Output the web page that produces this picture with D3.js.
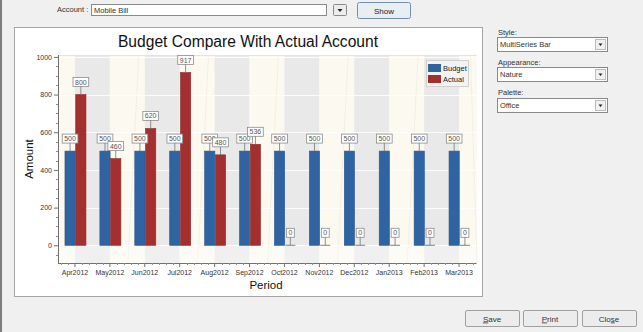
<!DOCTYPE html>
<html><head><meta charset="utf-8">
<script src="https://cdn.jsdelivr.net/npm/d3@7/dist/d3.min.js"></script>
<style>
html,body{margin:0;padding:0;background:#f0f0f0;overflow:hidden;}
svg{display:block;}
text{font-family:"Liberation Sans",Arial,sans-serif;}
</style></head>
<body>
<svg id="c" width="643" height="332"></svg>
<script>
const categories = ["Apr2012","May2012","Jun2012","Jul2012","Aug2012","Sep2012","Oct2012","Nov2012","Dec2012","Jan2013","Feb2013","Mar2013"];
const seriesNames = ["Budget","Actual"];
const budgetValues = [500,500,500,500,500,500,500,500,500,500,500,500];
const actualValues = [800,460,620,917,480,536,0,0,0,0,0,0];
const yTickValues = [0,200,400,600,800,1000];
const seriesColors = ["#2f63a2","#a3302e"];
const titleText = "Budget Compare With Actual Account";

const svg = d3.select("#c");

// window chrome
svg.append("rect").attr("x",0).attr("y",0).attr("width",643).attr("height",332).attr("fill","#f0f0f0");
svg.append("rect").attr("x",0).attr("y",0).attr("width",2).attr("height",332).attr("fill","#7d7d7d");

// top controls
svg.append("text").attr("x",57).attr("y",12).attr("font-size",7.5).attr("fill","#333").text("Account :");
svg.append("rect").attr("x",91.5).attr("y",4.5).attr("width",235).attr("height",11).attr("fill","#fff").attr("stroke","#8a8a8a");
svg.append("text").attr("x",94).attr("y",13).attr("font-size",7.5).attr("fill","#333").text("Mobile Bill");
svg.append("rect").attr("x",333.5).attr("y",4.5).attr("width",13).attr("height",11).attr("fill","#ececec").attr("stroke","#8a8a8a").attr("rx",1);
svg.append("path").attr("d","M337.5 9 L342.5 9 L340 12 Z").attr("fill","#222");
const showG = svg.append("g");
showG.append("rect").attr("x",357.5).attr("y",2.5).attr("width",53).attr("height",16).attr("rx",2).attr("fill","#e9eef3").attr("stroke","#6f8fb3");
showG.append("text").attr("x",384).attr("y",13.5).attr("text-anchor","middle").attr("font-size",8).attr("fill","#222").text("Show");

// right selects
const selects = [["Style:","MultiSeries Bar",35,37],["Appearance:","Nature",65,67],["Palette:","Office",95,98]];
selects.forEach(s=>{
  svg.append("text").attr("x",498).attr("y",s[2]).attr("font-size",7.5).attr("fill","#333").text(s[0]);
  svg.append("rect").attr("x",497.5).attr("y",s[3]+0.5).attr("width",110).attr("height",14).attr("fill","#fff").attr("stroke","#8a8a8a");
  svg.append("rect").attr("x",595.5).attr("y",s[3]+2.5).attr("width",10).attr("height",10).attr("fill","#f0f0f0").attr("stroke","#bdbdbd");
  svg.append("path").attr("d",`M598.5 ${s[3]+6.5} L602.5 ${s[3]+6.5} L600.5 ${s[3]+9} Z`).attr("fill","#222");
  svg.append("text").attr("x",500).attr("y",s[3]+10).attr("font-size",7.5).attr("fill","#333").text(s[1]);
});

// bottom buttons
const buttons = [["S","ave",465],["P","rint",523],["Clo","se",582]];
buttons.forEach((b,i)=>{
  svg.append("rect").attr("x",b[2]+0.5).attr("y",310.5).attr("width",54).attr("height",16).attr("rx",1.5).attr("fill","#ececec").attr("stroke","#a0a0a0");
  const t = svg.append("text").attr("x",b[2]+27).attr("y",321.5).attr("text-anchor","middle").attr("font-size",8).attr("fill","#333");
  if(i<2){ t.append("tspan").attr("text-decoration","underline").text(b[0]); t.append("tspan").text(b[1]); }
  else { t.append("tspan").text("Clo"); t.append("tspan").attr("text-decoration","underline").text("s"); t.append("tspan").text("e"); }
});

// chart panel
svg.append("rect").attr("x",14.5).attr("y",27.5).attr("width",468).attr("height",269).attr("fill","#fff").attr("stroke","#a5a5a5");

const plotL = 58, plotR = 476.5, plotT = 55, plotB = 263;
const x = d3.scaleBand().domain(categories).range([57.5, 476.5]).padding(0);
const center = c => x(c) + x.bandwidth()/2;
const xs = d3.scaleBand().domain(seriesNames).range([0,21]).paddingInner(0.05);
const y = d3.scaleLinear().domain([-94,1010]).range([plotB, plotT]);

// stripes
const plot = svg.append("g");
plot.append("rect").attr("x",plotL).attr("y",plotT).attr("width",plotR-plotL).attr("height",plotB-plotT).attr("fill","#fcf9f0");
categories.forEach((c,i)=>{
  const x0 = center(c);
  const x1 = i<categories.length-1 ? center(categories[i+1]) : plotR;
  plot.append("rect").attr("x",x0).attr("y",plotT).attr("width",x1-x0).attr("height",plotB-plotT)
    .attr("fill", i%2===0 ? "#e9e9e9" : "#fcf9f0");
  if(i%2===1){
    plot.append("line").attr("x1",x0+18).attr("x2",x1-6).attr("y1",plotB).attr("y2",plotT)
      .attr("stroke","#f1ecdf").attr("stroke-width",0.8);
  }
});
// area below zero lighter
plot.append("rect").attr("x",plotL).attr("y",y(0)).attr("width",plotR-plotL).attr("height",plotB-y(0)).attr("fill","#fff").attr("opacity",0.35);
// gridlines
yTickValues.forEach(v=>{
  plot.append("line").attr("x1",plotL).attr("x2",plotR).attr("y1",Math.round(y(v))+0.5).attr("y2",Math.round(y(v))+0.5)
    .attr("stroke","#ffffff").attr("stroke-width",1).attr("opacity",0.9);
});
plot.append("line").attr("x1",plotL).attr("x2",plotR).attr("y1",plotT+0.5).attr("y2",plotT+0.5).attr("stroke","#e2e2e2");

// bars
const series = [budgetValues, actualValues];
const barG = svg.append("g");
series.forEach((vals,si)=>{
  barG.selectAll(null).data(categories).enter().append("rect")
    .attr("x", c => center(c) - 10 + xs(seriesNames[si]))
    .attr("y", (c,i) => y(vals[i]))
    .attr("width", xs.bandwidth())
    .attr("height", (c,i) => Math.max(0, y(0) - y(vals[i])))
    .attr("fill", seriesColors[si])
    .attr("stroke", d3.color(seriesColors[si]).darker(0.4))
    .attr("stroke-width",0.6);
});

// axes
const yAxis = d3.axisLeft(y).tickValues(yTickValues).tickFormat(d3.format("d")).tickSize(4).tickPadding(2);
const yg = svg.append("g").attr("transform",`translate(${plotL},0)`).call(yAxis);
yg.select(".domain").attr("d",`M0.5,${plotT}V${plotB}`).attr("stroke","#707070");
yg.selectAll(".tick line").attr("stroke","#707070");
yg.selectAll(".tick text").attr("font-size",7).attr("fill","#333").attr("font-family","Liberation Sans, Arial");
const yMinor = d3.range(-50, 1010, 50).filter(v=>v%200!==0);
yg.selectAll(".minor").data(yMinor).enter().append("line").attr("x1",0).attr("x2",-2)
  .attr("y1",d=>Math.round(y(d))+0.5).attr("y2",d=>Math.round(y(d))+0.5).attr("stroke","#909090");

const xAxis = d3.axisBottom(x).tickSize(4).tickPadding(3);
const xg = svg.append("g").attr("transform",`translate(0,${plotB})`).call(xAxis);
xg.select(".domain").attr("d",`M${plotL},0.5H${plotR}`).attr("stroke","#707070");
xg.selectAll(".tick line").attr("stroke","#707070");
xg.selectAll(".tick text").attr("font-size",7).attr("fill","#333").attr("font-family","Liberation Sans, Arial");
const xMinor = [];
categories.forEach(c=>{ for(let k=-2;k<=2;k++){ if(k!==0) xMinor.push(center(c)+k*x.bandwidth()/5); } });
xg.selectAll(".minor").data(xMinor.filter(v=>v>plotL && v<plotR)).enter().append("line")
  .attr("x1",d=>Math.round(d)+0.5).attr("x2",d=>Math.round(d)+0.5).attr("y1",0).attr("y2",2).attr("stroke","#909090");

// data labels
const lblG = svg.append("g");
series.forEach((vals,si)=>{
  categories.forEach((c,i)=>{
    const cx = center(c) - 10 + xs(seriesNames[si]) + xs.bandwidth()/2;
    const top = y(vals[i]);
    const g = lblG.append("g");
    const t = g.append("text").attr("x",cx).attr("y",top-10).attr("text-anchor","middle")
      .attr("font-size",7).attr("fill","#555").text(vals[i]);
    const w = t.node().getComputedTextLength() + 4;
    g.insert("rect","text").attr("x",cx-w/2).attr("y",top-17).attr("width",w).attr("height",9)
      .attr("fill","#fff").attr("stroke","#8c8c8c").attr("stroke-width",0.8);
    g.append("line").attr("x1",cx).attr("x2",cx).attr("y1",top-8).attr("y2",top).attr("stroke","#777").attr("stroke-width",0.8);
    if(vals[i]===0){
      g.append("line").attr("x1",cx-5).attr("x2",cx+5).attr("y1",top).attr("y2",top).attr("stroke","#666").attr("stroke-width",0.8);
    }
  });
});

// legend
const lg = svg.append("g");
lg.append("rect").attr("x",426.5).attr("y",60.5).attr("width",42).attr("height",26).attr("fill","#f3f3f3").attr("stroke","#d0d0d0");
seriesNames.forEach((s,i)=>{
  lg.append("rect").attr("x",428).attr("y",64+i*11).attr("width",13).attr("height",8).attr("fill",seriesColors[i]);
  lg.append("text").attr("x",443).attr("y",71+i*11).attr("font-size",7.5).attr("fill","#222").text(s);
});

// titles
svg.append("text").attr("x",248).attr("y",47).attr("text-anchor","middle").attr("font-size",15.6)
  .attr("font-family","Open Sans, sans-serif").attr("fill","#111").text(titleText);
svg.append("text").attr("transform","translate(33,159) rotate(-90)").attr("text-anchor","middle")
  .attr("font-size",11.5).attr("font-family","Open Sans, sans-serif").attr("fill","#111").text("Amount");
svg.append("text").attr("x",266).attr("y",289).attr("text-anchor","middle")
  .attr("font-size",11.5).attr("font-family","Open Sans, sans-serif").attr("fill","#111").text("Period");
</script>
</body></html>
